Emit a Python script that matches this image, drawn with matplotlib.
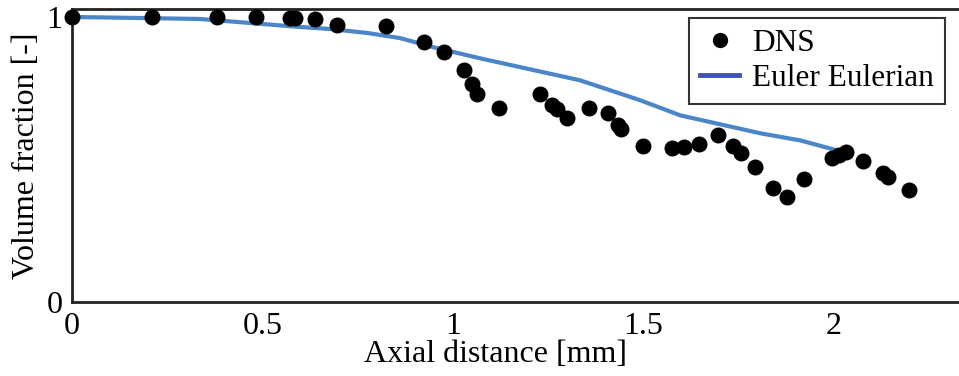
import matplotlib
matplotlib.use("Agg")
import matplotlib.pyplot as plt
from matplotlib.lines import Line2D

# DNS data (axial distance [mm], volume fraction [-])
dns_x = [0.000, 0.210, 0.381, 0.483, 0.572, 0.585, 0.638, 0.696, 0.824, 0.924,
         0.976, 1.029, 1.050, 1.063, 1.121, 1.228, 1.260, 1.273, 1.299, 1.357,
         1.407, 1.433, 1.441, 1.499, 1.575, 1.606, 1.646, 1.696, 1.735, 1.756,
         1.793, 1.840, 1.877, 1.921, 1.995, 2.013, 2.031, 2.076, 2.129, 2.142,
         2.197]
dns_y = [1.000, 1.000, 1.000, 1.000, 0.996, 0.996, 0.993, 0.972, 0.968, 0.912,
         0.877, 0.813, 0.764, 0.729, 0.680, 0.729, 0.690, 0.676, 0.644, 0.680,
         0.662, 0.620, 0.606, 0.549, 0.539, 0.542, 0.553, 0.585, 0.546, 0.521,
         0.472, 0.401, 0.370, 0.430, 0.504, 0.514, 0.525, 0.496, 0.454, 0.440,
         0.394]

# Euler Eulerian model curve
ee_x = [0.000, 0.205, 0.336, 0.467, 0.598, 0.677, 0.775, 0.861, 0.948, 1.071,
        1.333, 1.491, 1.596, 1.806, 1.911, 2.008]
ee_y = [1.000, 0.996, 0.993, 0.979, 0.965, 0.958, 0.944, 0.926, 0.894, 0.855,
        0.778, 0.708, 0.655, 0.592, 0.567, 0.532]

x_ticks = [0, 0.5, 1, 1.5, 2]
x_ticklabels = ["0", "0.5", "1", "1.5", "2"]
y_ticks = [0, 1]
y_ticklabels = ["0", "1"]

plt.rcParams['font.family'] = ['Liberation Serif', 'DejaVu Serif']
plt.rcParams['mathtext.fontset'] = 'stix'

fig = plt.figure(figsize=(9.59, 3.76), dpi=100)
ax = fig.add_axes([0.0751, 0.197, 0.9249, 0.779])

line_color = '#4a86c8'
ax.plot(ee_x, ee_y, color=line_color, lw=3, solid_capstyle='butt', zorder=2)
ax.scatter(dns_x, dns_y, s=110, color='black', zorder=3, clip_on=False)

ax.set_xlim(0, 2.328)
ax.set_ylim(0, 1.028)

ax.set_xticks(x_ticks)
ax.set_xticklabels(x_ticklabels)
ax.set_yticks(y_ticks)
ax.set_yticklabels(y_ticklabels)
ax.tick_params(axis='both', length=0, labelsize=23, pad=7)

for s in ['left', 'bottom', 'top']:
    ax.spines[s].set_linewidth(2)
    ax.spines[s].set_color('#222222')
ax.spines['right'].set_visible(False)

ax.set_xlabel("Axial distance [mm]", fontsize=23)
ax.xaxis.set_label_coords(0.477, -0.13)
ax.set_ylabel("Volume fraction [-]", fontsize=23, labelpad=4)

handles = [
    Line2D([], [], marker='o', linestyle='none', color='black', markersize=10),
    Line2D([], [], color='#3d55b0', lw=3.5),
]
leg = ax.legend(handles, ["DNS", "Euler Eulerian"], loc='upper right',
                bbox_to_anchor=(0.984, 0.969), borderaxespad=0, fontsize=22.5,
                frameon=True, fancybox=False, handlelength=1.25,
                handletextpad=0.4, borderpad=0.35, labelspacing=0.2)
leg.get_frame().set_edgecolor('black')
leg.get_frame().set_linewidth(1.5)

fig.savefig("out.png", dpi=100)
